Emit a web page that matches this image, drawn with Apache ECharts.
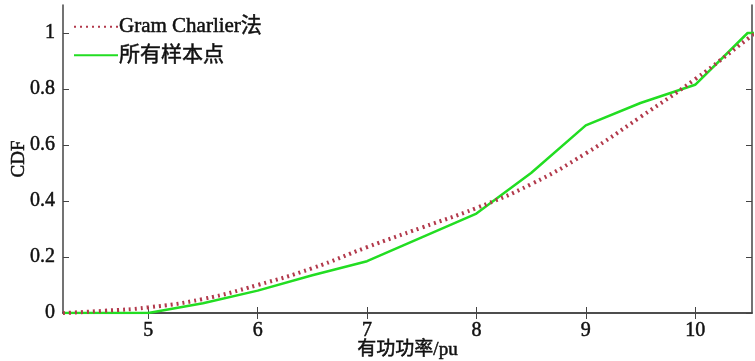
<!DOCTYPE html>
<html>
<head>
<meta charset="utf-8">
<script src="https://cdn.jsdelivr.net/npm/echarts@6/dist/echarts.min.js"></script>
<style>
  html, body { margin: 0; padding: 0; background: #fff; }
  #chart { width: 755px; height: 361px; }
</style>
</head>
<body>
<div id="chart"></div>
<script>
// values
var gcX = [4.22, 4.6, 5.0, 5.5, 6.0, 6.5, 7.0, 7.5, 8.0, 8.5, 9.0, 9.5, 10.0, 10.5, 10.55]
var gcY = [0, 0.008, 0.02, 0.05, 0.1, 0.16, 0.235, 0.305, 0.375, 0.46, 0.57, 0.70, 0.835, 0.985, 1.0]
var sampleX = [4.22, 5.0, 5.5, 6.0, 6.5, 7.0, 7.5, 8.0, 8.5, 9.0, 9.5, 10.0, 10.48, 10.55]
var sampleY = [0, 0, 0.035, 0.08, 0.135, 0.185, 0.27, 0.355, 0.5, 0.67, 0.75, 0.815, 1.0, 1.0]
var xTicks = [5, 6, 7, 8, 9, 10]
var yTicks = [0, 0.2, 0.4, 0.6, 0.8, 1]

var serif = '"Liberation Serif", "Noto Sans CJK SC", serif'
var axisColor = '#444'
var textColor = '#111'

// slightly heavier than regular, like the scanned figure
function txt(size) {
    return {
        fontFamily: serif, fontSize: size, color: textColor,
        textBorderColor: textColor, textBorderWidth: 0.5
    }
}

function pairs(xs, ys) {
    return xs.map(function (x, i) { return [x, ys[i]] })
}

var chart = echarts.init(document.getElementById('chart'))

var option = {
    animation: false,
    grid: { left: 63, right: 3, top: 5, bottom: 48, containLabel: false, outerBoundsMode: 'none' },
    legend: {
        left: 68,
        top: 11,
        orient: 'vertical',
        itemGap: 7,
        itemWidth: 44,
        itemHeight: 12,
        itemStyle: { opacity: 0 },
        textStyle: Object.assign(txt(21), { padding: [0, 0, 0, -4] }),
        data: ['Gram Charlier法', '所有样本点']
    },
    xAxis: [{
        type: 'value',
        min: 4.22,
        max: 10.52,
        name: '有功功率/pu',
        nameLocation: 'middle',
        nameGap: 28,
        nameMoveOverlap: false,
        nameTextStyle: txt(19),
        axisLine: { show: true, lineStyle: { color: axisColor, width: 1.5 } },
        axisTick: { show: true, inside: true, length: 6, customValues: xTicks, lineStyle: { color: axisColor } },
        axisLabel: Object.assign(txt(20), { customValues: xTicks, margin: 8 }),
        splitLine: { show: false }
    }, {
        type: 'value',
        position: 'top',
        min: 4.22,
        max: 10.52,
        axisLine: { show: true, lineStyle: { color: axisColor, width: 1.5 } },
        axisTick: { show: true, inside: true, length: 6, customValues: xTicks, lineStyle: { color: axisColor } },
        axisLabel: { show: false },
        splitLine: { show: false }
    }],
    yAxis: [{
        type: 'value',
        min: 0,
        max: 1.1,
        name: 'CDF',
        nameLocation: 'middle',
        nameGap: 34,
        nameMoveOverlap: false,
        nameTextStyle: txt(19),
        axisLine: { show: true, lineStyle: { color: axisColor, width: 1.5 } },
        axisTick: { show: true, inside: true, length: 6, customValues: yTicks, lineStyle: { color: axisColor } },
        axisLabel: Object.assign(txt(20), { customValues: yTicks, margin: 8 }),
        splitLine: { show: false }
    }, {
        type: 'value',
        position: 'right',
        min: 0,
        max: 1.1,
        axisLine: { show: true, lineStyle: { color: axisColor, width: 1.5 } },
        axisTick: { show: true, inside: true, length: 6, customValues: yTicks, lineStyle: { color: axisColor } },
        axisLabel: { show: false },
        splitLine: { show: false }
    }],
    series: [{
        name: 'Gram Charlier法',
        type: 'line',
        smooth: true,
        showSymbol: false,
        symbol: 'none',
        data: pairs(gcX, gcY),
        lineStyle: { color: '#b2394b', width: 4, type: [2, 4] },
        itemStyle: { color: '#b2394b' },
        z: 3
    }, {
        name: '所有样本点',
        type: 'line',
        showSymbol: false,
        symbol: 'none',
        data: pairs(sampleX, sampleY),
        lineStyle: { color: '#22dd22', width: 2.5 },
        itemStyle: { color: '#22dd22' },
        z: 2
    }]
}

chart.setOption(option, true)
</script>
</body>
</html>
